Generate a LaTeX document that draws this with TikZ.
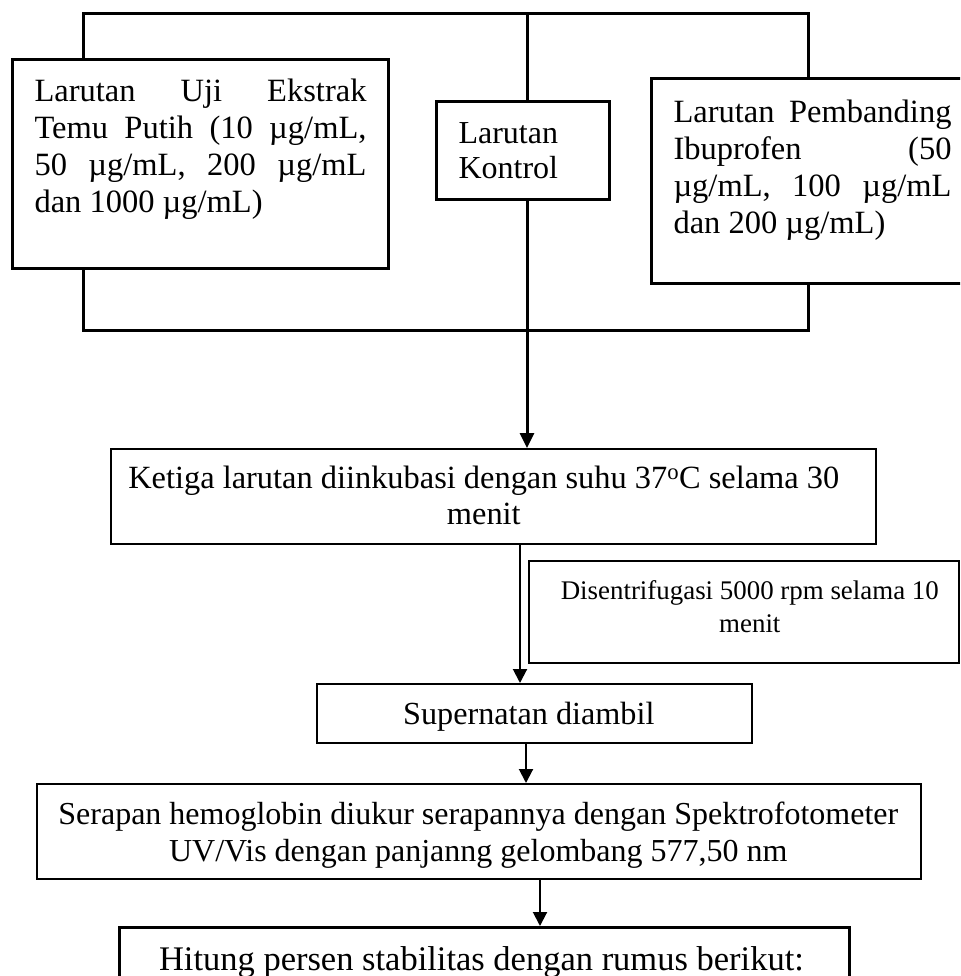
\documentclass[tikz,border=0pt]{standalone}
\usepackage{fontspec}
\setmainfont{Liberation Serif}
\usetikzlibrary{arrows.meta}

% box body: width, height, top pad, left pad, text width, text
\newcommand\boxbody[6]{\parbox[t][#2][t]{#1}{\vspace*{#3}\hspace*{#4}\parbox[t]{#5}{#6}}}
\newcommand\fstrut[1]{\rule{0pt}{#1}}

\begin{document}
\begin{tikzpicture}[x=1pt,y=-1pt,
  thickbox/.style={draw,line width=3pt,inner sep=0pt,anchor=north west},
  thinbox/.style={draw,line width=1.6pt,inner sep=0pt,anchor=north west},
  frame/.style={line width=3pt},
  flow/.style={line width=3pt,-{Triangle[length=15pt,width=14pt]}},
  flowthin/.style={line width=2pt,-{Triangle[length=14pt,width=14pt]}},
]
\useasboundingbox (0,0) rectangle (960,976);
\fill[white] (0,0) rectangle (960,976);
\clip (0,0) rectangle (960,976);

% corners of the collecting frame
\coordinate (tl) at (83,14);
\coordinate (tr) at (808,14);
\coordinate (bl) at (83,330);
\coordinate (br) at (808,330);
\coordinate (tm) at (527,14);
\coordinate (c2) at (520,0);
\coordinate (c3) at (526,0);
\coordinate (c4) at (540,0);

% the three solutions
\node[thickbox] (uji) at (11,58) {\boxbody{376pt}{209pt}{19pt}{22pt}{332pt}{%
  \fontsize{32.5pt}{37pt}\selectfont
  \fstrut{23pt}\makebox[332pt][s]{Larutan Uji Ekstrak}\\
  \makebox[332pt][s]{Temu Putih (10 µg/mL,}\\
  \makebox[332pt][s]{50 µg/mL, 200 µg/mL}\\
  dan 1000 µg/mL)}};

\node[thickbox] (kontrol) at (435,100) {\boxbody{173pt}{98pt}{19pt}{22pt}{145pt}{%
  \fontsize{32pt}{35pt}\selectfont
  \fstrut{23pt}Larutan\\
  Kontrol}};

\node[thickbox] (banding) at (650,77) {\boxbody{330pt}{205pt}{21pt}{22pt}{278pt}{%
  \fontsize{32.5pt}{37pt}\selectfont
  \fstrut{23pt}\makebox[278pt][s]{Larutan Pembanding}\\
  \makebox[278pt][s]{Ibuprofen (50}\\
  \makebox[278pt][s]{µg/mL, 100 µg/mL}\\
  dan 200 µg/mL)}};

% process steps
\node[thinbox] (ketiga) at (110,448) {\boxbody{765pt}{95pt}{17pt}{0pt}{746pt}{%
  \centering\fontsize{32.4pt}{36pt}\selectfont
  \fstrut{22pt}Ketiga larutan diinkubasi dengan suhu 37\textsuperscript{o}C selama 30\\
  menit\par}};

\node[thinbox] (sentri) at (528,560) {\boxbody{430pt}{102pt}{20pt}{12pt}{418pt}{%
  \centering\fontsize{26.9pt}{33pt}\selectfont
  \fstrut{19pt}Disentrifugasi 5000 rpm selama 10\\
  menit\par}};

\node[thinbox] (super) at (316,683) {\boxbody{435pt}{59pt}{18pt}{0pt}{424pt}{%
  \centering\fontsize{32.2pt}{36pt}\selectfont
  \fstrut{22pt}Supernatan diambil\par}};

\node[thinbox] (serapan) at (36,783) {\boxbody{884pt}{95pt}{18pt}{0pt}{883pt}{%
  \centering\fontsize{32pt}{37pt}\selectfont
  \fstrut{22pt}Serapan hemoglobin diukur serapannya dengan Spektrofotometer\\
  UV/Vis dengan panjanng gelombang 577,50 nm\par}};

\node[thickbox] (hitung) at (118,926) {\boxbody{730pt}{80pt}{19pt}{0pt}{724pt}{%
  \centering\fontsize{34.5pt}{37pt}\selectfont
  \fstrut{23pt}Hitung persen stabilitas dengan rumus berikut:\par}};

% collecting frame
\draw[frame] (uji.north -| tl) -- (tl) -- (tr) -- (banding.north -| tr);
\draw[frame] (uji.south -| bl) -- (bl) -- (br) -- (banding.south -| br);
\draw[frame] (tm) -- (tm |- kontrol.north);

% flow arrows
\draw[flow] (tm |- kontrol.south) -- (tm |- ketiga.north);
\draw[flowthin] (c2 |- ketiga.south) -- (c2 |- super.north);
\draw[flowthin] (c3 |- super.south) -- (c3 |- serapan.north);
\draw[flowthin] (c4 |- serapan.south) -- (c4 |- hitung.north);
\end{tikzpicture}
\end{document}
